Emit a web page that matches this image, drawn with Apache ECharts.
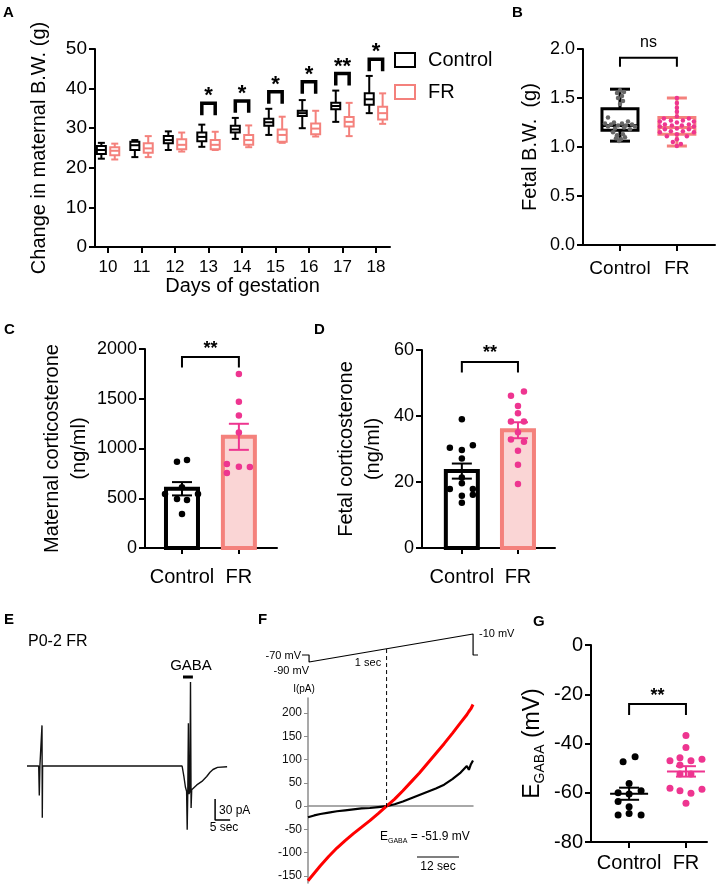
<!DOCTYPE html>
<html>
<head>
<meta charset="utf-8">
<script src="https://cdn.jsdelivr.net/npm/echarts@6.0.0/dist/echarts.min.js"></script>
<style>
  html, body { margin: 0; padding: 0; background: #fff; }
  #chart { width: 725px; height: 886px; }
</style>
</head>
<body>
<div id="chart"></div>
<script>
const FONT = 'Liberation Sans, Arial, sans-serif';
const PINK = '#EE3590';
const SALMON = '#F4817C';
const BAR_FILL = '#FAD5D5';

// A: change in maternal body weight (box plots)
const days = [10, 11, 12, 13, 14, 15, 16, 17, 18];
const ctrlMin = [22.3, 22.7, 24.5, 25.3, 27.3, 28.3, 30.0, 31.6, 33.8];
const ctrlQ1 = [23.5, 24.5, 26.2, 26.7, 28.9, 30.6, 33.1, 34.8, 35.9];
const ctrlMed = [24.5, 25.7, 27.0, 27.8, 29.7, 31.5, 33.8, 35.6, 37.3];
const ctrlQ3 = [25.5, 26.6, 28.0, 28.9, 30.6, 32.4, 34.4, 36.4, 38.8];
const ctrlMax = [26.3, 27.0, 29.2, 30.9, 32.6, 34.9, 37.1, 39.5, 43.2];
const frMin = [22.1, 22.7, 24.1, 24.5, 25.2, 26.3, 27.9, 28.0, 31.1];
const frQ1 = [23.2, 23.8, 24.7, 24.7, 25.8, 26.6, 28.5, 30.4, 32.2];
const frMed = [24.3, 24.9, 25.8, 25.8, 27.0, 28.3, 29.9, 31.6, 33.8];
const frQ3 = [25.2, 26.2, 27.2, 27.0, 28.3, 29.7, 31.2, 32.8, 35.4];
const frMax = [26.1, 28.0, 28.9, 29.1, 30.7, 32.9, 34.4, 36.4, 38.8];
const aSigDays = [13, 14, 15, 16, 17, 18];
const aSigTop = [36.3, 36.9, 39.2, 41.7, 43.8, 47.4];
const aSigText = ['*', '*', '*', '*', '**', '*'];

// B: fetal body weight
const groups = ['Control', 'FR'];
const bCtrlBox = [1.06, 1.17, 1.22, 1.39, 1.59];
const bFrBox = [1.01, 1.13, 1.20, 1.30, 1.50];
const bCtrl = [1.58, 1.56, 1.55, 1.52, 1.50, 1.47, 1.44, 1.30, 1.26, 1.25, 1.24, 1.24, 1.23, 1.23,
  1.22, 1.22, 1.21, 1.21, 1.20, 1.19, 1.18, 1.15, 1.13, 1.12, 1.10, 1.09, 1.08, 1.06];
const bCtrlJitter = [0, 4, -3, 2, -2, 3, 0, -12, 8, -6, -15, 2, 12, -9, 6, -2, 15, -12, 4, -5, 10, -7, 3, -3, 5, -4, 1, -1];
const bFr = [1.50, 1.45, 1.40, 1.36, 1.31, 1.29, 1.29, 1.27, 1.27, 1.26, 1.26, 1.25, 1.23, 1.23, 1.22, 1.22,
  1.21, 1.21, 1.19, 1.18, 1.18, 1.16, 1.16, 1.15, 1.15, 1.13, 1.11, 1.11, 1.08, 1.05, 1.03, 1.01];
const bFrJitter = [0, 0, 0, 0, 0, -13, 12, -6, 6, -17, 17, 0, -12, 12, -5, 5, -17, 17, 0, -12, 12, -6, 6, -17, 17, 0, -10, 10, 0, -4, 4, 0];

// C: maternal corticosterone (ng/ml)
const cCtrl = [867, 884, 610, 543, 492, 482, 543, 342];
const cCtrlJitter = [-5, 5, 0, -17, -5, 5, 16, 0];
const cFr = [1749, 1471, 1331, 1160, 844, 817, 814, 754];
const cFrJitter = [0, 0, 0, 0, -12, 0, 11, -12];

// D: fetal corticosterone (ng/ml)
const dCtrl = [39.0, 30.4, 29.7, 31.1, 27.1, 21.4, 19.6, 17.9, 17.9, 15.8, 16.1, 13.7];
const dCtrlJitter = [0, -12, 0, 11, 0, 0, 0, -12, 11, 0, 11, 0];
const dFr = [46.1, 47.4, 43.0, 40.8, 38.3, 38.3, 35.1, 32.9, 32.2, 29.5, 25.2, 19.4];
const dFrJitter = [-7, 6, 0, 0, -7, 6, 0, -7, 6, 0, 0, 0];

// E: P0-2 FR trace (sec, pA)
const eTime = [0, 3.9, 4.1, 4.3, 4.9, 5.0, 5.1, 5.2, 20, 35, 51.7, 52.3, 52.8, 53.2, 53.4, 53.6, 53.8, 54.0,
  54.3, 54.5, 54.7, 54.9, 55.5, 56.6, 58.3, 59.9, 61, 62, 63.5, 66.7];
const eCurrent = [0, 0, -42, 0, 1, 58, -74, 0, 0, 0, 0, -15, -30, -36, -91, -36, 61, -40,
  -36, 120, -60, -34, -33, -27, -22, -15, -9, -5, -2, -1];

// F: voltage ramp and I-V traces
const rampTime = [-0.043, 0, 0, 1, 1, 1.03];
const rampVolt = [-70, -70, -90, -10, -70, -70];
const fVolt = [-90, -87, -84, -80, -76, -72, -68, -64, -60, -56, -51.9, -48, -44, -40, -36, -32, -28, -24, -20, -16, -13, -12, -11, -10];
const fRed = [-160, -144, -128, -108, -90, -74, -59, -45, -31, -16, 0, 15, 33, 52, 71, 92, 113, 134, 156, 179, 196, 203, 209, 218];
const fBlack = [-24, -20, -17, -14, -11, -9, -7, -5, -4, -2, 0, 4, 10, 17, 24, 31, 38, 46, 58, 72, 86, 78, 90, 98];
const fTicks = [-150, -100, -50, 0, 50, 100, 150, 200];
const eGaba = -51.9;

// G: E_GABA (mV)
const gCtrl = [-47.4, -45.4, -56.2, -60.0, -60.5, -59.2, -63.6, -65.7, -69.0, -68.4, -69.0];
const gCtrlJitter = [-6, 6, 0, -11, 0, 12, -11, 0, -11, 0, 12];
const gFr = [-36.8, -41.6, -47.0, -45.8, -47.0, -46.4, -48.7, -52.4, -52.4, -58.2, -59.2, -60.2, -58.6, -64.3];
const gFrJitter = [0, 0, -16, -6, 5, 16, -6, -6, 5, -16, -6, 5, 16, 0];

const mean = a => a.reduce((s, v) => s + v, 0) / a.length;
const sem = a => {
  const m = mean(a);
  return Math.sqrt(a.reduce((s, v) => s + (v - m) * (v - m), 0) / (a.length - 1) / a.length);
};

function yAxisFor(gridIndex, min, max, interval, fontSize, name, nameGap, extra) {
  return Object.assign({
    gridIndex, type: 'value', min, max, interval,
    splitLine: { show: false },
    axisLine: { show: true, onZero: false, lineStyle: { color: '#000', width: 2 } },
    axisTick: { show: true, length: 6, lineStyle: { color: '#000', width: 2 } },
    axisLabel: { color: '#000', fontFamily: FONT, fontSize, margin: 8, formatter: v => String(v) },
    name, nameLocation: 'middle', nameGap,
    nameTextStyle: { color: '#000', fontFamily: FONT, fontSize: 20, lineHeight: 27 }
  }, extra || {});
}

function groupAxis(gridIndex, min, max, fontSize, margin) {
  return {
    gridIndex, type: 'value', min, max,
    splitLine: { show: false },
    axisLine: { show: true, onZero: false, lineStyle: { color: '#000', width: 2 } },
    axisTick: { show: true, length: 6, customValues: [1, 2], lineStyle: { color: '#000', width: 2 } },
    axisLabel: {
      color: '#000', fontFamily: FONT, fontSize, margin, customValues: [1, 2],
      formatter: v => groups[Math.round(v) - 1]
    }
  };
}

function hiddenAxis(gridIndex, min, max) {
  return { gridIndex, type: 'value', min, max, show: false, splitLine: { show: false } };
}

// box and whisker drawn through the axis scales
function boxSeries(name, idx, data, color, boxW, capW, lw, fill) {
  return {
    type: 'custom', name, xAxisIndex: idx, yAxisIndex: idx, data, clip: false, z: 3,
    encode: { x: 0, y: [1, 2, 3, 4, 5] },
    renderItem(params, api) {
      const x = api.value(0);
      const cx = api.coord([x, api.value(3)])[0];
      const y = i => api.coord([x, api.value(i)])[1];
      const yMin = y(1), yQ1 = y(2), yMed = y(3), yQ3 = y(4), yMax = y(5);
      const st = { stroke: color, lineWidth: lw };
      return {
        type: 'group', children: [
          { type: 'line', shape: { x1: cx, y1: yMax, x2: cx, y2: yQ3 }, style: st },
          { type: 'line', shape: { x1: cx, y1: yQ1, x2: cx, y2: yMin }, style: st },
          { type: 'line', shape: { x1: cx - capW / 2, y1: yMax, x2: cx + capW / 2, y2: yMax }, style: st },
          { type: 'line', shape: { x1: cx - capW / 2, y1: yMin, x2: cx + capW / 2, y2: yMin }, style: st },
          { type: 'rect', shape: { x: cx - boxW / 2, y: yQ3, width: boxW, height: yQ1 - yQ3 }, style: { stroke: color, lineWidth: lw, fill } },
          { type: 'line', shape: { x1: cx - boxW / 2, y1: yMed, x2: cx + boxW / 2, y2: yMed }, style: st }
        ]
      };
    }
  };
}

// significance bracket: [x1, x2, top, legBottom]
function bracketSeries(idx, data, labels, lw, fontSize, textLift, bold) {
  return {
    type: 'custom', xAxisIndex: idx, yAxisIndex: idx, data, clip: false, z: 4,
    encode: { x: [0, 1], y: [2, 3] },
    renderItem(params, api) {
      const p1 = api.coord([api.value(0), api.value(2)]);
      const p2 = api.coord([api.value(1), api.value(3)]);
      return {
        type: 'group', children: [
          { type: 'polyline', shape: { points: [[p1[0], p2[1]], [p1[0], p1[1]], [p2[0], p1[1]], [p2[0], p2[1]]] },
            style: { stroke: '#000', lineWidth: lw, fill: null } },
          { type: 'text', x: (p1[0] + p2[0]) / 2, y: p1[1] - textLift,
            style: { text: labels[params.dataIndex], align: 'center', verticalAlign: 'middle',
              fontSize, fontWeight: bold ? 'bold' : 'normal', fontFamily: FONT, fill: '#000' } }
        ]
      };
    }
  };
}

// bar with outline: [x, mean]
function barSeries(idx, x, values, stroke, fill) {
  return {
    type: 'custom', xAxisIndex: idx, yAxisIndex: idx, data: [[x, mean(values)]], z: 2,
    encode: { x: 0, y: 1 },
    renderItem(params, api) {
      const top = api.coord([api.value(0), api.value(1)]);
      const base = api.coord([api.value(0), 0]);
      return { type: 'rect', shape: { x: top[0] - 16, y: top[1], width: 32, height: base[1] - top[1] },
        style: { stroke, lineWidth: 4, fill } };
    }
  };
}

// mean +/- SEM: [x, mean, sem]
function semSeries(idx, x, values, color, capW, meanW, lw) {
  return {
    type: 'custom', xAxisIndex: idx, yAxisIndex: idx, data: [[x, mean(values), sem(values)]], z: 5,
    encode: { x: 0, y: 1 },
    renderItem(params, api) {
      const m = api.value(1), s = api.value(2), xv = api.value(0);
      const pm = api.coord([xv, m]);
      const pt = api.coord([xv, m + s]);
      const pb = api.coord([xv, m - s]);
      const st = { stroke: color, lineWidth: lw };
      const children = [
        { type: 'line', shape: { x1: pm[0], y1: pt[1], x2: pm[0], y2: pb[1] }, style: st },
        { type: 'line', shape: { x1: pm[0] - capW / 2, y1: pt[1], x2: pm[0] + capW / 2, y2: pt[1] }, style: st },
        { type: 'line', shape: { x1: pm[0] - capW / 2, y1: pb[1], x2: pm[0] + capW / 2, y2: pb[1] }, style: st }
      ];
      if (meanW) children.push({ type: 'line', shape: { x1: pm[0] - meanW / 2, y1: pm[1], x2: pm[0] + meanW / 2, y2: pm[1] }, style: st });
      return { type: 'group', children };
    }
  };
}

function dotSeries(idx, x, values, jitter, color, size) {
  return {
    type: 'scatter', xAxisIndex: idx, yAxisIndex: idx, z: 4, symbolSize: size,
    itemStyle: { color, opacity: 1 },
    data: values.map((v, i) => ({ value: [x, v], symbolOffset: [jitter[i], 0] }))
  };
}

function lineSeries(idx, xs, ys, color, width, extra) {
  return Object.assign({
    type: 'line', xAxisIndex: idx, yAxisIndex: idx, showSymbol: false, clip: false,
    lineStyle: { color, width }, data: xs.map((x, i) => [x, ys[i]]), z: 3
  }, extra || {});
}

function txt(text, x, y, size, opts) {
  return {
    type: 'text', x, y, silent: true,
    style: Object.assign({ text, fontSize: size, fontFamily: FONT, fill: '#000',
      align: 'left', verticalAlign: 'middle' }, opts || {})
  };
}

const grids = [
  { left: 95, top: 49, width: 295, height: 198 },   // A
  { left: 583, top: 49, width: 132, height: 196 },  // B
  { left: 145, top: 349, width: 132, height: 199 }, // C
  { left: 422, top: 350, width: 133, height: 198 }, // D
  { left: 27, top: 668, width: 204, height: 168 },  // E
  { left: 302, top: 634, width: 176, height: 28 },  // F protocol
  { left: 308, top: 698, width: 165, height: 185 }, // F I-V
  { left: 591, top: 645, width: 116, height: 197 }  // G
].map(g => Object.assign({ outerBoundsMode: 'none', containLabel: false }, g));

const xAxes = [
  {
    gridIndex: 0, type: 'value', min: 9.61, max: 18.42,
    splitLine: { show: false },
    axisLine: { show: true, onZero: false, lineStyle: { color: '#000', width: 2 } },
    axisTick: { show: true, length: 6, customValues: days, lineStyle: { color: '#000', width: 2 } },
    axisLabel: { color: '#000', fontFamily: FONT, fontSize: 17, margin: 12, customValues: days },
    name: 'Days of gestation', nameLocation: 'middle', nameGap: 29,
    nameTextStyle: { color: '#000', fontFamily: FONT, fontSize: 20 }
  },
  groupAxis(1, 0.35, 2.67, 19, 14),
  groupAxis(2, 0.35, 2.67, 20, 19),
  groupAxis(3, 0.29, 2.66, 20, 19),
  hiddenAxis(4, 0, 68),
  hiddenAxis(5, -0.043, 1.03),
  {
    gridIndex: 6, type: 'value', min: -90, max: -10,
    splitLine: { show: false },
    axisLine: { show: true, onZero: true, lineStyle: { color: '#8c8c8c', width: 1.5 } },
    axisTick: { show: false }, axisLabel: { show: false }
  },
  groupAxis(7, 0.33, 2.37, 20, 11)
];

const yAxes = [
  yAxisFor(0, 0, 50, 10, 19, 'Change in maternal B.W. (g)', 42),
  yAxisFor(1, 0, 2, 0.5, 18, 'Fetal B.W.  (g)', 39, { axisLabel: { color: '#000', fontFamily: FONT, fontSize: 18, margin: 8, formatter: v => v.toFixed(1) } }),
  yAxisFor(2, 0, 2000, 500, 18, 'Maternal corticosterone\n(ng/ml)', 47),
  yAxisFor(3, 0, 60, 20, 18, 'Fetal corticosterone\n(ng/ml)', 35),
  hiddenAxis(4, -100, 140),
  hiddenAxis(5, -90, -10),
  {
    gridIndex: 6, type: 'value', min: -165, max: 232,
    splitLine: { show: false },
    axisLine: { show: true, onZero: false, lineStyle: { color: '#8c8c8c', width: 1.5 } },
    axisTick: { show: true, length: 4, customValues: fTicks, lineStyle: { color: '#8c8c8c', width: 1 } },
    axisLabel: { color: '#111', fontFamily: FONT, fontSize: 12, margin: 6, customValues: fTicks }
  },
  yAxisFor(7, -80, 0, 20, 20, '{e|E}{s|GABA}{e| (mV)}', 44, {
    nameTextStyle: {
      color: '#000', fontFamily: FONT, fontSize: 22,
      rich: {
        e: { fontSize: 23, fontFamily: FONT, color: '#000', lineHeight: 28 },
        s: { fontSize: 14, fontFamily: FONT, color: '#000', lineHeight: 28, verticalAlign: 'bottom', padding: [10, 0, 0, 0] }
      }
    }
  })
];

const series = [
  // A
  boxSeries('Control', 0, days.map((d, i) => [d - 0.2, ctrlMin[i], ctrlQ1[i], ctrlMed[i], ctrlQ3[i], ctrlMax[i]]), '#000', 9, 7, 2, '#fff'),
  boxSeries('FR', 0, days.map((d, i) => [d + 0.2, frMin[i], frQ1[i], frMed[i], frQ3[i], frMax[i]]), SALMON, 9, 7, 2, '#fff'),
  bracketSeries(0, aSigDays.map((d, i) => [d - 0.2, d + 0.2, aSigTop[i], aSigTop[i] - 3]), aSigText, 3.5, 22, 7, true),
  // B
  boxSeries('bCtrl', 1, [[1].concat(bCtrlBox)], '#000', 36, 20, 3, 'transparent'),
  boxSeries('bFr', 1, [[2].concat(bFrBox)], SALMON, 36, 20, 3, 'transparent'),
  dotSeries(1, 1, bCtrl, bCtrlJitter, '#666', 4.5),
  dotSeries(1, 2, bFr, bFrJitter, PINK, 4.5),
  bracketSeries(1, [[1, 2, 1.91, 1.82]], ['ns'], 2, 16, 15, false),
  // C
  barSeries(2, 1, cCtrl, '#000', '#fff'),
  barSeries(2, 2, cFr, SALMON, BAR_FILL),
  dotSeries(2, 1, cCtrl, cCtrlJitter, '#000', 6.5),
  dotSeries(2, 2, cFr, cFrJitter, PINK, 6.5),
  semSeries(2, 1, cCtrl, '#000', 20, 0, 2),
  semSeries(2, 2, cFr, PINK, 20, 0, 2),
  bracketSeries(2, [[1, 2, 1920, 1815]], ['**'], 2, 18, 8, true),
  // D
  barSeries(3, 1, dCtrl, '#000', '#fff'),
  barSeries(3, 2, dFr, SALMON, BAR_FILL),
  dotSeries(3, 1, dCtrl, dCtrlJitter, '#000', 6.5),
  dotSeries(3, 2, dFr, dFrJitter, PINK, 6.5),
  semSeries(3, 1, dCtrl, '#000', 20, 0, 2),
  semSeries(3, 2, dFr, PINK, 20, 0, 2),
  bracketSeries(3, [[1, 2, 56.4, 53.2]], ['**'], 2, 18, 9, true),
  // E
  lineSeries(4, eTime, eCurrent, '#111', 1.4),
  lineSeries(4, [52.0, 55.3], [127, 127], '#000', 3),
  lineSeries(4, [62.7, 62.7, 67.7], [-47, -77, -77], '#000', 1.5),
  // F
  lineSeries(5, rampTime, rampVolt, '#000', 1.2),
  lineSeries(6, fVolt, fBlack, '#000', 2.2),
  lineSeries(6, fVolt, fRed, '#ff0000', 3),
  lineSeries(6, [eGaba, eGaba], [-2, 339], '#000', 1, { lineStyle: { color: '#000', width: 1, type: [4, 3] } }),
  // G
  dotSeries(7, 1, gCtrl, gCtrlJitter, '#000', 7),
  dotSeries(7, 2, gFr, gFrJitter, PINK, 7),
  semSeries(7, 1, gCtrl, '#000', 20, 38, 2),
  semSeries(7, 2, gFr, PINK, 20, 38, 2),
  bracketSeries(7, [[1, 2, -24.0, -28.4]], ['**'], 2, 18, 8, true)
];

const bold = { fontWeight: 'bold' };
const graphic = [
  txt('A', 3, 13, 15, bold),
  txt('B', 512, 13, 15, bold),
  txt('C', 4, 330, 15, bold),
  txt('D', 314, 330, 15, bold),
  txt('E', 4, 620, 15, bold),
  txt('F', 258, 620, 15, bold),
  txt('G', 533, 622, 15, bold),
  // legend of panel A
  { type: 'rect', shape: { x: 395, y: 53, width: 20, height: 14 }, style: { fill: '#fff', stroke: '#000', lineWidth: 2 } },
  txt('Control', 428, 60, 20),
  { type: 'rect', shape: { x: 395, y: 85, width: 20, height: 14 }, style: { fill: '#fff', stroke: SALMON, lineWidth: 2 } },
  txt('FR', 428, 92, 20),
  // panel E labels
  txt('P0-2 FR', 28, 642, 16),
  txt('GABA', 191, 666, 15, { align: 'center' }),
  txt('30 pA', 219, 811, 12),
  txt('5 sec', 224, 828, 12, { align: 'center' }),
  // panel F labels
  txt('-70 mV', 301, 656, 11, { align: 'right' }),
  txt('-90 mV', 309, 671, 11, { align: 'right' }),
  txt('-10 mV', 479, 634, 11),
  txt('1 sec', 368, 663, 11, { align: 'center' }),
  txt('I(pA)', 304, 689, 10, { align: 'center' }),
  {
    type: 'text', x: 380, y: 837, silent: true,
    style: {
      text: '{a|E}{s|GABA}{a| = -51.9 mV}', verticalAlign: 'middle', fill: '#000',
      rich: {
        a: { fontSize: 12, fontFamily: FONT, fill: '#000', lineHeight: 16 },
        s: { fontSize: 7, fontFamily: FONT, fill: '#000', lineHeight: 16, verticalAlign: 'bottom', padding: [6, 0, 0, 0] }
      }
    }
  },
  { type: 'line', shape: { x1: 417, y1: 857, x2: 459, y2: 857 }, style: { stroke: '#000', lineWidth: 1.2 } },
  txt('12 sec', 438, 867, 12, { align: 'center' })
];

const chart = echarts.init(document.getElementById('chart'), null, { renderer: 'canvas', width: 725, height: 886 });
chart.setOption({
  animation: false,
  backgroundColor: '#fff',
  textStyle: { fontFamily: FONT },
  grid: grids,
  xAxis: xAxes,
  yAxis: yAxes,
  series,
  graphic
});
</script>
</body>
</html>
